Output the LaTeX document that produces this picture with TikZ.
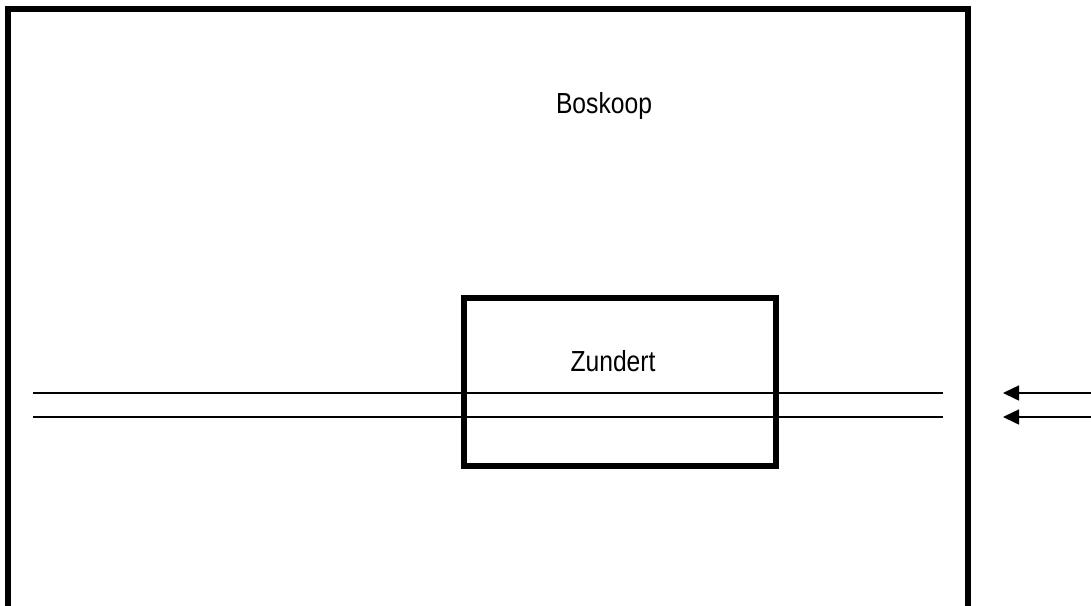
\documentclass[tikz,border=0pt]{standalone}
\usepackage{fontspec}
\newfontfamily\labfont[FakeStretch=0.85]{Liberation Sans}
\usetikzlibrary{arrows.meta}
\begin{document}
\begin{tikzpicture}[x=1pt,y=-1pt,
  region/.style={draw=black,line width=6pt},
  track/.style={draw=black,line width=1.6pt},
  flow/.style={draw=black,line width=1.6pt,-{Triangle[length=16pt,width=15pt]}},
  lab/.style={font=\labfont\fontsize{29}{30}\selectfont,inner sep=0pt}]
\useasboundingbox (0,0) rectangle (1091,605);
\begin{scope}
\clip (0,0) rectangle (1091,605);
\draw[region] (7.5,9) rectangle (968,630);
\end{scope}
\node[lab] (boskoop) at (604,106) {Boskoop};
\draw[region] (464,297.5) rectangle (776,465.5);
\node[lab] (zundert) at (613,361) {Zundert};
\coordinate (t1w) at (33,393);
\coordinate (t1e) at (943,393);
\coordinate (t2w) at (33,417);
\coordinate (t2e) at (943,417);
\draw[track] (t1w) -- (t1e);
\draw[track] (t2w) -- (t2e);
\coordinate (a1s) at (1095,393);
\coordinate (a1e) at (1003,393);
\coordinate (a2s) at (1095,417);
\coordinate (a2e) at (1003,417);
\draw[flow] (a1s) -- (a1e);
\draw[flow] (a2s) -- (a2e);
\end{tikzpicture}
\end{document}
